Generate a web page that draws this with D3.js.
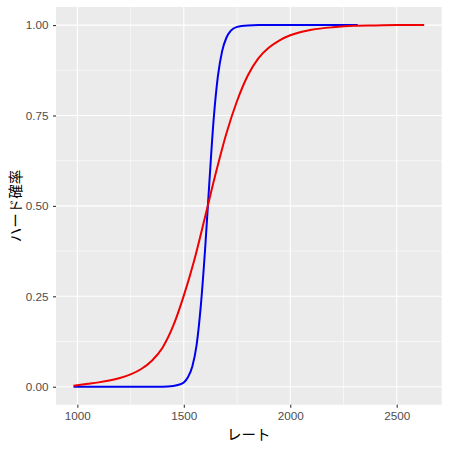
<!DOCTYPE html>
<html>
<head>
<meta charset="utf-8">
<script src="https://cdn.jsdelivr.net/npm/d3@7"></script>
<style>
  body { margin: 0; background: #fff; }
  svg { display: block; }
</style>
</head>
<body>
<div id="chart"></div>
<script>
// values
var blueRate = [982, 1400, 1450, 1480, 1500, 1520, 1540, 1560, 1580, 1600, 1620, 1640, 1660, 1680, 1700, 1720, 1750, 1800, 1850, 2317];
var blueProb = [0.000, 0.000, 0.002, 0.006, 0.012, 0.027, 0.056, 0.115, 0.225, 0.380, 0.565, 0.738, 0.858, 0.928, 0.965, 0.984, 0.995, 0.999, 1.000, 1.000];

var redRate = [982, 1050, 1100, 1150, 1200, 1250, 1300, 1350, 1400, 1450, 1500, 1550, 1600, 1650, 1700, 1750, 1800, 1850, 1900, 1950, 2000, 2050, 2100, 2200, 2300, 2400, 2500, 2629];
var redProb = [0.003, 0.008, 0.012, 0.017, 0.024, 0.034, 0.049, 0.072, 0.108, 0.168, 0.252, 0.352, 0.470, 0.590, 0.700, 0.790, 0.860, 0.908, 0.938, 0.958, 0.972, 0.981, 0.987, 0.994, 0.998, 0.999, 1.000, 1.000];

var xTicks = [1000, 1500, 2000, 2500];
var xMinor = [1250, 1750, 2250];
var yTicks = [0, 0.25, 0.5, 0.75, 1];
var yMinor = [0.125, 0.375, 0.625, 0.875];
var yTickLabels = ["0.00", "0.25", "0.50", "0.75", "1.00"];

var xTitle = "レート";
var yTitle = "ハード確率";

var width = 450, height = 450;
var panel = {left: 56, right: 441.7, top: 7, bottom: 404.8};

var blue = blueRate.map(function(r, i) { return {x: r, y: blueProb[i]}; });
var red = redRate.map(function(r, i) { return {x: r, y: redProb[i]}; });

// ggplot style 5% expansion
var ext = d3.extent(blueRate.concat(redRate));
var pad = (ext[1] - ext[0]) * 0.05;
var x = d3.scaleLinear()
    .domain([ext[0] - pad, ext[1] + pad])
    .range([panel.left, panel.right]);
var y = d3.scaleLinear()
    .domain([-0.05, 1.05])
    .range([panel.bottom, panel.top]);

var svg = d3.select("#chart").append("svg")
    .attr("width", width)
    .attr("height", height);

svg.append("rect")
    .attr("x", panel.left)
    .attr("y", panel.top)
    .attr("width", panel.right - panel.left)
    .attr("height", panel.bottom - panel.top)
    .attr("fill", "#EBEBEB");

// grid lines
svg.selectAll(".xminor").data(xMinor).enter().append("line")
    .attr("x1", d => x(d)).attr("x2", d => x(d))
    .attr("y1", panel.top).attr("y2", panel.bottom)
    .attr("stroke", "#fff").attr("stroke-width", 0.55);
svg.selectAll(".yminor").data(yMinor).enter().append("line")
    .attr("y1", d => y(d)).attr("y2", d => y(d))
    .attr("x1", panel.left).attr("x2", panel.right)
    .attr("stroke", "#fff").attr("stroke-width", 0.55);
svg.selectAll(".xmajor").data(xTicks).enter().append("line")
    .attr("x1", d => x(d)).attr("x2", d => x(d))
    .attr("y1", panel.top).attr("y2", panel.bottom)
    .attr("stroke", "#fff").attr("stroke-width", 1.1);
svg.selectAll(".ymajor").data(yTicks).enter().append("line")
    .attr("y1", d => y(d)).attr("y2", d => y(d))
    .attr("x1", panel.left).attr("x2", panel.right)
    .attr("stroke", "#fff").attr("stroke-width", 1.1);

// curves
var line = d3.line()
    .x(d => x(d.x))
    .y(d => y(d.y))
    .curve(d3.curveMonotoneX);

svg.append("path")
    .datum(blue)
    .attr("d", line)
    .attr("fill", "none")
    .attr("stroke", "#0000F0")
    .attr("stroke-width", 2);

svg.append("path")
    .datum(red)
    .attr("d", line)
    .attr("fill", "none")
    .attr("stroke", "#F00000")
    .attr("stroke-width", 2);

// axes
var xAxis = svg.append("g")
    .attr("transform", "translate(0," + panel.bottom + ")")
    .call(d3.axisBottom(x).tickValues(xTicks).tickSize(3).tickPadding(4).tickFormat(d3.format("d")));
var yAxis = svg.append("g")
    .attr("transform", "translate(" + panel.left + ",0)")
    .call(d3.axisLeft(y).tickValues(yTicks).tickSize(3).tickPadding(4.5)
        .tickFormat((d, i) => yTickLabels[i]));

[xAxis, yAxis].forEach(function(g) {
    g.select(".domain").remove();
    g.selectAll(".tick line").attr("stroke", "#333333").attr("stroke-width", 1.1);
    g.selectAll(".tick text")
        .attr("fill", "#4D4D4D")
        .style("font-family", "'Liberation Sans', Arial, sans-serif")
        .style("font-size", "11.7px");
});

svg.append("text")
    .attr("x", (panel.left + panel.right) / 2)
    .attr("y", 440)
    .attr("text-anchor", "middle")
    .style("font-family", "'Noto Sans CJK JP', sans-serif")
    .style("font-size", "14.5px")
    .attr("fill", "#000")
    .text(xTitle);

svg.append("text")
    .attr("transform", "translate(21," + ((panel.top + panel.bottom) / 2) + ") rotate(-90)")
    .attr("text-anchor", "middle")
    .style("font-family", "'Noto Sans CJK JP', sans-serif")
    .style("font-size", "14.5px")
    .attr("fill", "#000")
    .text(yTitle);
</script>
</body>
</html>
